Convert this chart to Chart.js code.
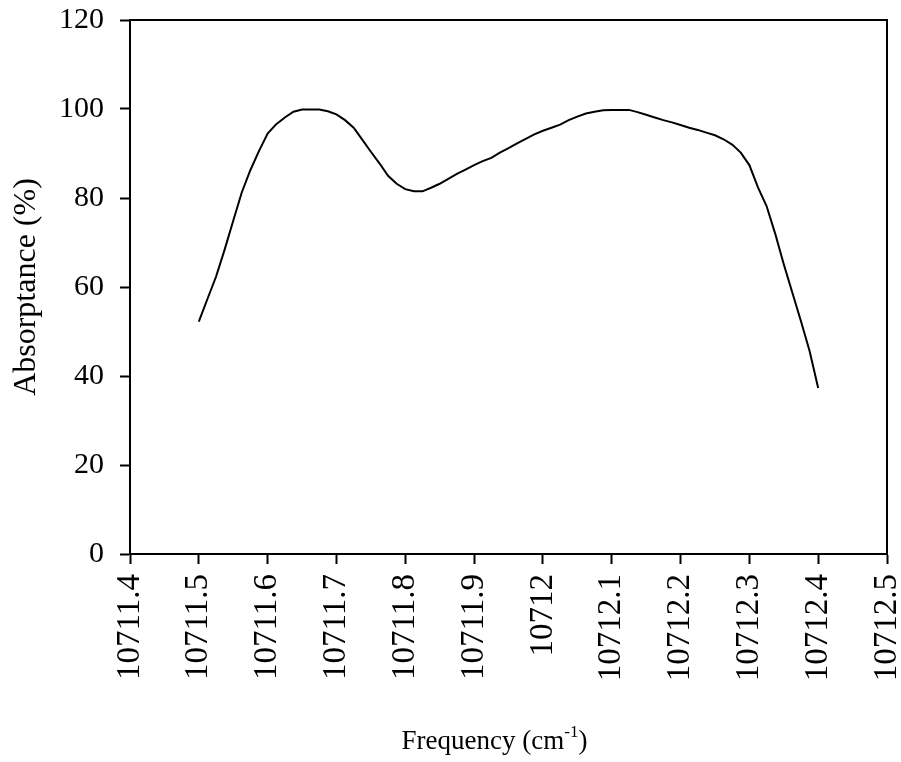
<!DOCTYPE html>
<html>
<head>
<meta charset="utf-8">
<script src="https://cdn.jsdelivr.net/npm/chart.js@4.4.1/dist/chart.umd.min.js"></script>
<style>
  html, body { margin: 0; padding: 0; background: #fff; }
  #chart { display: block; }
</style>
</head>
<body>
<canvas id="chart" width="901" height="762"></canvas>
<script>
// Absorptance vs frequency
const frequency = [
  10711.5, 10711.5125, 10711.525, 10711.5375, 10711.55, 10711.5625, 10711.575, 10711.5875,
  10711.6, 10711.6125, 10711.625, 10711.6375, 10711.65, 10711.6625, 10711.675, 10711.6875,
  10711.7, 10711.7125, 10711.725, 10711.7375, 10711.75, 10711.7625, 10711.775, 10711.7875,
  10711.8, 10711.8125, 10711.825, 10711.8375, 10711.85, 10711.8625, 10711.875, 10711.8875,
  10711.9, 10711.9125, 10711.925, 10711.9375, 10711.95, 10711.9625, 10711.975, 10711.9875,
  10712.0, 10712.0125, 10712.025, 10712.0375, 10712.05, 10712.0625, 10712.075, 10712.0875,
  10712.1, 10712.1125, 10712.125, 10712.1375, 10712.15, 10712.1625, 10712.175, 10712.1875,
  10712.2, 10712.2125, 10712.225, 10712.2375, 10712.25, 10712.2625, 10712.275, 10712.2875,
  10712.3, 10712.3125, 10712.325, 10712.3375, 10712.35, 10712.3625, 10712.375, 10712.3875,
  10712.4
];
const absorptance = [
  52.2, 57.3, 62.3, 68.4, 74.9, 81.3, 86.3, 90.6,
  94.5, 96.6, 98.1, 99.4, 99.9, 99.9, 99.9, 99.5,
  98.8, 97.5, 95.8, 93.1, 90.4, 87.8, 85.0, 83.2,
  82.0, 81.5, 81.5, 82.3, 83.2, 84.3, 85.4, 86.4,
  87.4, 88.3, 89.0, 90.2, 91.2, 92.3, 93.3, 94.3,
  95.1, 95.8, 96.5, 97.5, 98.3, 99.0, 99.4, 99.7,
  99.8, 99.8, 99.8, 99.3, 98.7, 98.1, 97.5, 97.0,
  96.4, 95.8, 95.3, 94.7, 94.1, 93.2, 92.0, 90.2,
  87.4, 82.4, 78.2, 72.0, 65.1, 58.7, 52.3, 45.6,
  37.3
];
const xMin = 10711.4, xMax = 10712.5, xStep = 0.1;
const yMin = 0, yMax = 120, yStep = 20;

const yTitle = 'Absorptance (%)';
const xTitleMain = 'Frequency (cm';
const xTitleSup = '-1';
const xTitleEnd = ')';

const SERIF = '"Liberation Serif", "Times New Roman", serif';

// Box round the plot area plus the x title with its superscript
const framePlugin = {
  id: 'frame',
  afterDraw(chart) {
    const { ctx, chartArea: a } = chart;
    ctx.save();
    ctx.strokeStyle = '#000';
    ctx.lineWidth = 2;
    ctx.strokeRect(a.left, a.top, a.right - a.left, a.bottom - a.top);

    const mainFont = '27px ' + SERIF;
    const supFont = '17px ' + SERIF;
    ctx.fillStyle = '#000';
    ctx.textBaseline = 'alphabetic';
    ctx.font = mainFont;
    const w1 = ctx.measureText(xTitleMain).width;
    const w3 = ctx.measureText(xTitleEnd).width;
    ctx.font = supFont;
    const w2 = ctx.measureText(xTitleSup).width;
    const cx = (a.left + a.right) / 2 - 14;
    let x = cx - (w1 + w2 + w3) / 2;
    const y = 749;
    ctx.textAlign = 'left';
    ctx.font = mainFont;
    ctx.fillText(xTitleMain, x, y);
    x += w1;
    ctx.font = supFont;
    ctx.fillText(xTitleSup, x, y - 12);
    x += w2;
    ctx.font = mainFont;
    ctx.fillText(xTitleEnd, x, y);
    ctx.restore();
  },
};

function zeroPadding(scale) {
  scale.paddingLeft = 0;
  scale.paddingRight = 0;
  scale.paddingTop = 0;
  scale.paddingBottom = 0;
}

const ctx = document.getElementById('chart').getContext('2d');
new Chart(ctx, {
  type: 'line',
  data: {
    datasets: [{
      data: frequency.map((f, i) => ({ x: f, y: absorptance[i] })),
      borderColor: '#000',
      borderWidth: 2,
      pointRadius: 0,
      tension: 0,
      fill: false,
    }],
  },
  options: {
    responsive: false,
    animation: false,
    events: [],
    layout: { padding: { left: 0, right: 14, top: 20, bottom: 0 } },
    scales: {
      x: {
        type: 'linear',
        min: xMin,
        max: xMax,
        afterFit(scale) { scale.height = 208; zeroPadding(scale); },
        ticks: {
          stepSize: xStep,
          minRotation: 90,
          maxRotation: 90,
          autoSkip: false,
          padding: 10,
          color: '#000',
          font: { family: SERIF, size: 33 },
          callback: (v) => String(Number(v.toFixed(1))),
        },
        grid: {
          drawOnChartArea: false,
          drawTicks: true,
          tickLength: 10,
          tickWidth: 2,
          tickColor: '#000',
        },
        border: { color: '#000', width: 2 },
      },
      y: {
        min: yMin,
        max: yMax,
        afterFit(scale) { scale.width = 130; zeroPadding(scale); },
        ticks: {
          stepSize: yStep,
          padding: 16,
          color: '#000',
          font: { family: SERIF, size: 30 },
        },
        grid: {
          drawOnChartArea: false,
          drawTicks: true,
          tickLength: 10,
          tickWidth: 2,
          tickColor: '#000',
        },
        border: { color: '#000', width: 2 },
        title: {
          display: true,
          text: yTitle,
          color: '#000',
          font: { family: SERIF, size: 32 },
          padding: { top: 7, bottom: 0 },
        },
      },
    },
    plugins: {
      legend: { display: false },
      tooltip: { enabled: false },
    },
  },
  plugins: [framePlugin],
});
</script>
</body>
</html>
